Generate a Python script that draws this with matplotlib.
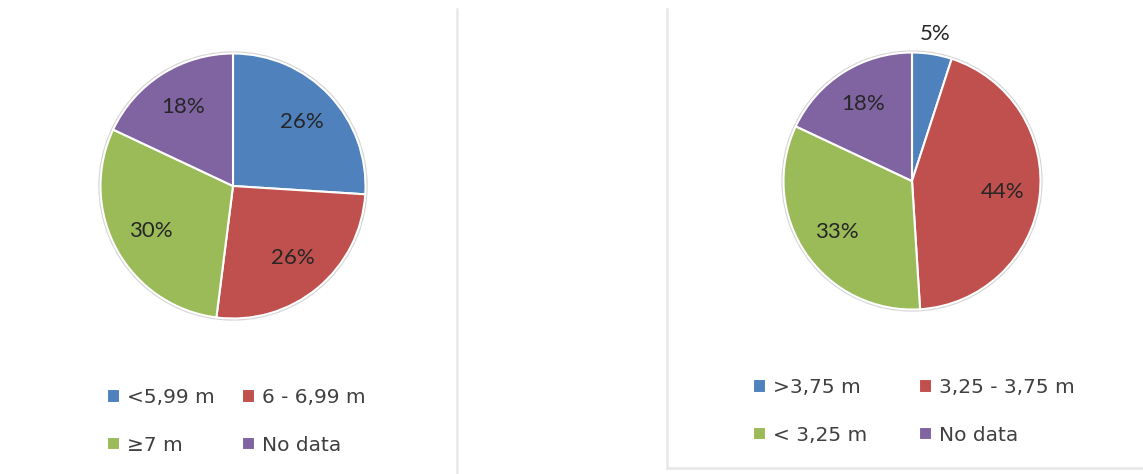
import matplotlib
matplotlib.use("Agg")
import matplotlib.pyplot as plt
from matplotlib.lines import Line2D
from matplotlib.patches import Circle
import numpy as np

W, H = 1143, 474
DPI = 100

colors = ["#4F81BD", "#C0504D", "#9BBB59", "#8064A2"]

left_labels = ["<5,99 m", "6 - 6,99 m", "\u22657 m", "No data"]
left_values = [26, 26, 30, 18]

right_labels = [">3,75 m", "3,25 - 3,75 m", "< 3,25 m", "No data"]
right_values = [5, 44, 33, 18]

fig = plt.figure(figsize=(W / DPI, H / DPI), dpi=DPI)
fig.patch.set_facecolor("white")


def px_axes(cx, cy, r):
    return fig.add_axes([(cx - r) / W, (H - cy - r) / H, 2 * r / W, 2 * r / H])


def draw_pie(ax, values):
    ax.add_patch(Circle((0, 0), 1.01, facecolor="none", edgecolor="#d4d4d4",
                        lw=1.2, zorder=0, clip_on=False))
    wedges, texts, autotexts = ax.pie(
        values, colors=colors, startangle=90, counterclock=False,
        autopct="%.0f%%", pctdistance=0.71,
        wedgeprops=dict(edgecolor="white", linewidth=1.5),
        textprops=dict(fontsize=16, color="#262626", family=["Lato", "DejaVu Sans"]),
    )
    for w in wedges:
        w.set_clip_on(False)
    ax.set_xlim(-1, 1)
    ax.set_ylim(-1, 1)
    ax.set_aspect("equal")
    ax.axis("off")
    return wedges, autotexts


def draw_legend(ax, wedges, labels, x, y, colspace):
    order = [0, 2, 1, 3]  # row-major placement in a 2-column legend
    ax.legend([wedges[i] for i in order], [labels[i] for i in order], ncol=2, loc="upper left",
              bbox_to_anchor=(x / W, 1 - y / H), bbox_transform=fig.transFigure,
              frameon=False, fontsize=14.5, borderpad=0, handlelength=0.65, handleheight=0.65,
              handletextpad=0.35, columnspacing=colspace, labelspacing=1.42,
              labelcolor="#404040", borderaxespad=0)


# left pie
axL = px_axes(233, 186, 132.5)
wL, tL = draw_pie(axL, left_values)
draw_legend(axL, wL, left_labels, 107, 388, 1.35)

# right pie
axR = px_axes(912, 181, 128.5)
wR, tR = draw_pie(axR, right_values)
# small slice label placed outside the pie
w0 = wR[0]
mid = np.deg2rad((w0.theta1 + w0.theta2) / 2)
tR[0].set_position((1.16 * np.cos(mid), 1.16 * np.sin(mid)))
draw_legend(axR, wR, right_labels, 753, 378, 2.55)

# light frame lines
line_col = "#e8e8e8"
fig.add_artist(Line2D([457 / W, 457 / W], [0, 1 - 9 / H], color=line_col, lw=1.8, transform=fig.transFigure))
fig.add_artist(Line2D([667 / W, 667 / W], [1 - 468 / H, 1 - 9 / H], color=line_col, lw=1.8, transform=fig.transFigure))
fig.add_artist(Line2D([667 / W, 1.0], [1 - 468 / H, 1 - 468 / H], color=line_col, lw=1.8, transform=fig.transFigure))

fig.savefig("out.png", dpi=DPI, facecolor="white")
